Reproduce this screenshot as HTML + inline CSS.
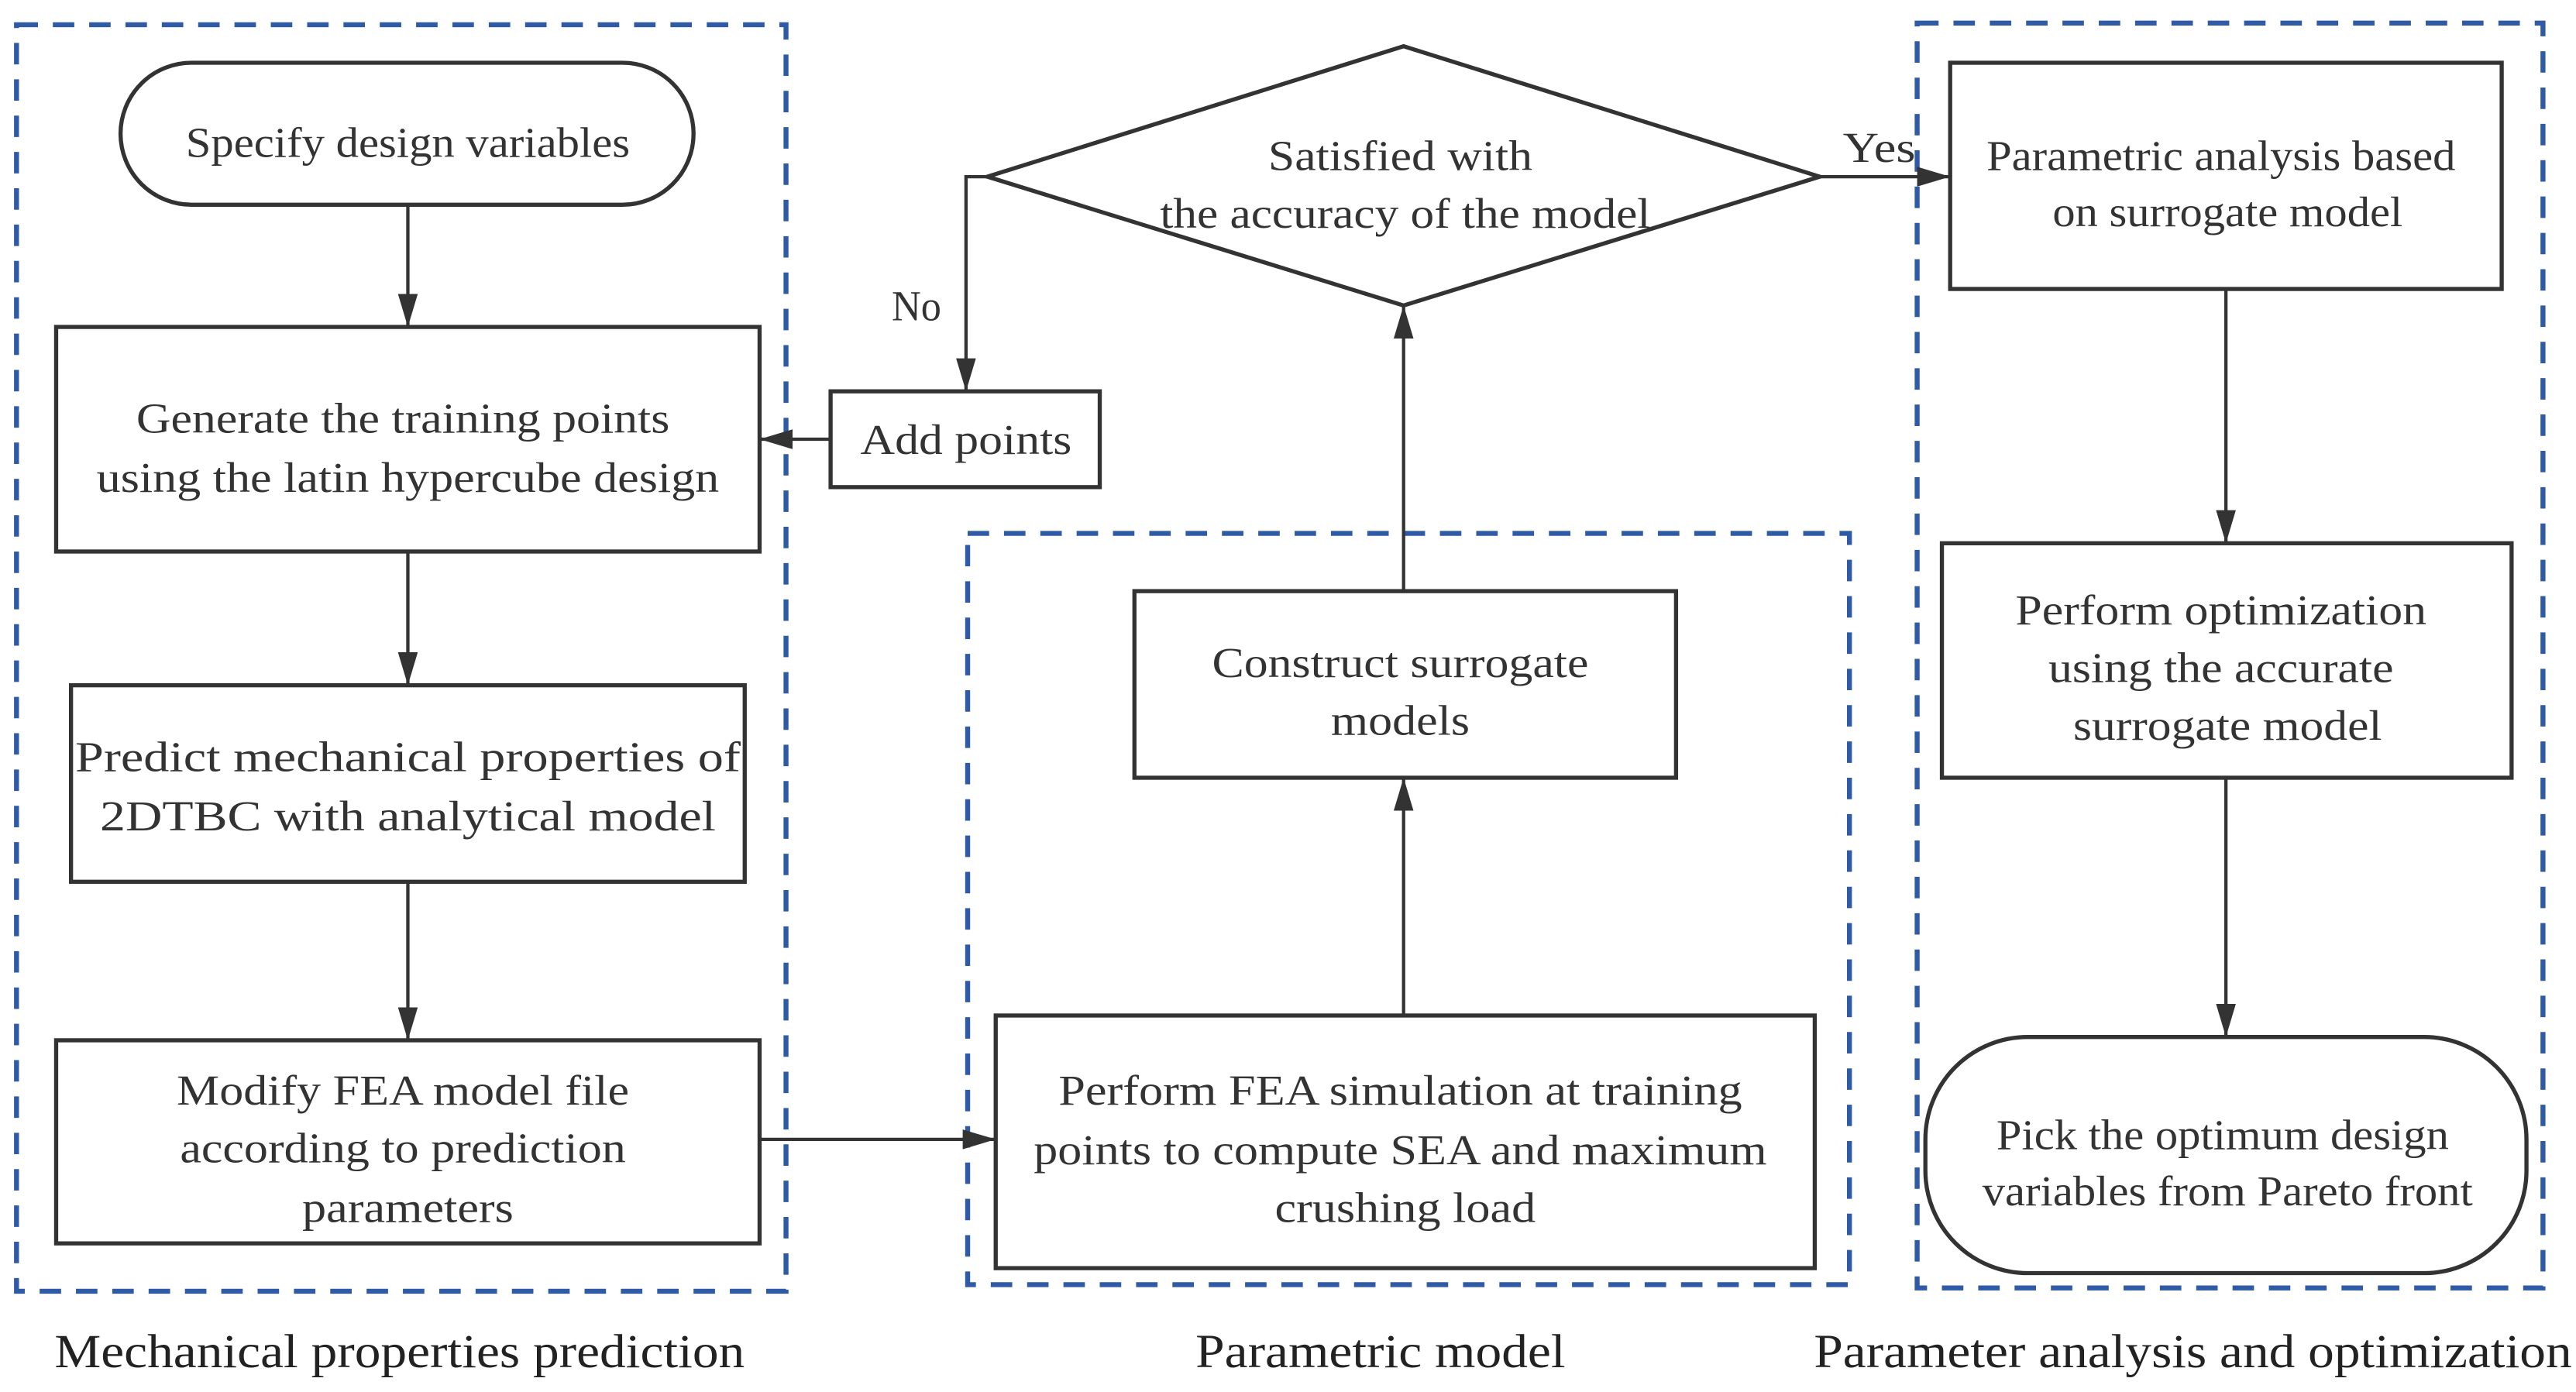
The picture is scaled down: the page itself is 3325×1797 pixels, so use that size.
<!DOCTYPE html>
<html><head><meta charset="utf-8"><style>html,body{margin:0;padding:0;background:#fff}svg{display:block}</style></head>
<body>
<svg width="3325" height="1797" viewBox="0 0 1560 843" preserveAspectRatio="none" xmlns="http://www.w3.org/2000/svg">
<defs><marker id="a" markerWidth="20" markerHeight="12" refX="20" refY="6" orient="auto" markerUnits="userSpaceOnUse"><path d="M0,0 L20,6 L0,12 Z" fill="#333"/></marker></defs>
<g fill="none" stroke="#2f5aa6" stroke-width="3" stroke-dasharray="13 9">
<rect x="10" y="15" width="466" height="767"/>
<rect x="586" y="323" width="534" height="455"/>
<rect x="1161" y="14" width="379" height="766"/>
</g>
<g fill="none" stroke="#333" stroke-width="2.5">
<rect x="73" y="38" width="347" height="86" rx="43"/>
<rect x="34" y="198" width="426" height="136"/>
<rect x="43" y="415" width="408" height="119"/>
<rect x="34" y="630" width="426" height="123"/>
<polygon points="598,107 850,28 1102,107 850,185"/>
<rect x="503" y="237" width="163" height="58"/>
<rect x="687" y="358" width="328" height="113"/>
<rect x="603" y="615" width="496" height="153"/>
<rect x="1181" y="38" width="334" height="137"/>
<rect x="1176" y="329" width="345" height="142"/>
<rect x="1166" y="628" width="364" height="143" rx="62"/>
</g>
<g fill="none" stroke="#333" stroke-width="2" marker-end="url(#a)">
<line x1="247" y1="124" x2="247" y2="198"/>
<line x1="247" y1="334" x2="247" y2="415"/>
<line x1="247" y1="534" x2="247" y2="630"/>
<polyline points="598,107 585,107 585,237"/>
<line x1="503" y1="266" x2="460" y2="266"/>
<line x1="460" y1="690" x2="603" y2="690"/>
<line x1="850" y1="615" x2="850" y2="471"/>
<line x1="850" y1="358" x2="850" y2="185"/>
<line x1="1102" y1="107" x2="1181" y2="107"/>
<line x1="1348" y1="175" x2="1348" y2="329"/>
<line x1="1348" y1="471" x2="1348" y2="628"/>
</g>
<g font-family="'Liberation Serif', serif" font-size="26" fill="#333" text-anchor="middle">
<text x="247" y="95" textLength="269" lengthAdjust="spacingAndGlyphs">Specify design variables</text>
<text x="244" y="262" textLength="323" lengthAdjust="spacingAndGlyphs">Generate the training points</text>
<text x="247" y="298" textLength="377" lengthAdjust="spacingAndGlyphs">using the latin hypercube design</text>
<text x="247" y="467" textLength="403" lengthAdjust="spacingAndGlyphs">Predict mechanical properties of</text>
<text x="247" y="503" textLength="373" lengthAdjust="spacingAndGlyphs">2DTBC with analytical model</text>
<text x="244" y="669" textLength="274" lengthAdjust="spacingAndGlyphs">Modify FEA model file</text>
<text x="244" y="704" textLength="270" lengthAdjust="spacingAndGlyphs">according to prediction</text>
<text x="247" y="740" textLength="128" lengthAdjust="spacingAndGlyphs">parameters</text>
<text x="848" y="103" textLength="160" lengthAdjust="spacingAndGlyphs">Satisfied with</text>
<text x="851" y="138" textLength="297" lengthAdjust="spacingAndGlyphs">the accuracy of the model</text>
<text x="585" y="275" textLength="128" lengthAdjust="spacingAndGlyphs">Add points</text>
<text x="848" y="410" textLength="228" lengthAdjust="spacingAndGlyphs">Construct surrogate</text>
<text x="848" y="445" textLength="84" lengthAdjust="spacingAndGlyphs">models</text>
<text x="848" y="669" textLength="414" lengthAdjust="spacingAndGlyphs">Perform FEA simulation at training</text>
<text x="848" y="705" textLength="444" lengthAdjust="spacingAndGlyphs">points to compute SEA and maximum</text>
<text x="851" y="740" textLength="158" lengthAdjust="spacingAndGlyphs">crushing load</text>
<text x="1345" y="103" textLength="284" lengthAdjust="spacingAndGlyphs">Parametric analysis based</text>
<text x="1349" y="137" textLength="212" lengthAdjust="spacingAndGlyphs">on surrogate model</text>
<text x="1345" y="378" textLength="249" lengthAdjust="spacingAndGlyphs">Perform optimization</text>
<text x="1345" y="413" textLength="209" lengthAdjust="spacingAndGlyphs">using the accurate</text>
<text x="1349" y="448" textLength="187" lengthAdjust="spacingAndGlyphs">surrogate model</text>
<text x="1346" y="696" textLength="274" lengthAdjust="spacingAndGlyphs">Pick the optimum design</text>
<text x="1349" y="730" textLength="297" lengthAdjust="spacingAndGlyphs">variables from Pareto front</text>
<text x="555" y="194" textLength="30" lengthAdjust="spacingAndGlyphs">No</text>
<text x="1138" y="98" textLength="44" lengthAdjust="spacingAndGlyphs">Yes</text>
</g>
<g font-family="'Liberation Serif', serif" font-size="29" fill="#222" text-anchor="middle">
<text x="242" y="828" textLength="418" lengthAdjust="spacingAndGlyphs">Mechanical properties prediction</text>
<text x="836" y="828" textLength="224" lengthAdjust="spacingAndGlyphs">Parametric model</text>
<text x="1328" y="828" textLength="459" lengthAdjust="spacingAndGlyphs">Parameter analysis and optimization</text>
</g>
</svg>
</body></html>
